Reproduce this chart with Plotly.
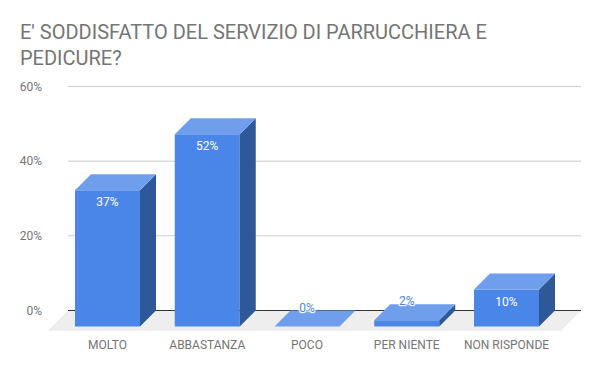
import plotly.graph_objects as go

title_lines = ["E' SODDISFATTO DEL SERVIZIO DI PARRUCCHIERA E", "PEDICURE?"]
categories = ["MOLTO", "ABBASTANZA", "POCO", "PER NIENTE", "NON RISPONDE"]
values = [36.5, 51.5, 0, 1.7, 9.9]
labels = ["37%", "52%", "0%", "2%", "10%"]
y_ticks = [0, 20, 40, 60]
y_tick_labels = ["0%", "20%", "40%", "60%"]

FRONT, TOP, SIDE = "#4a86e8", "#6e9eec", "#2f5899"
GREY = "#757575"

# Pixel geometry of the drawing, turned into axis units.
L, R, T, B = 48, 581, 86, 331
Y0_PX = 310.5
PX_Y = 224 / 60
PX_X = 99.75
X0_PX = 107.5
DX = 16 / PX_X
DY = 16 / PX_Y
BAR_W = 65 / PX_X
x_rng = [(L - X0_PX) / PX_X, (R - X0_PX) / PX_X]
y_rng = [-(B - Y0_PX) / PX_Y, (Y0_PX - T) / PX_Y]
back_left = (68 - X0_PX) / PX_X

idx = list(range(len(categories)))
fig = go.Figure()


def poly(xs, ys, color):
    fig.add_trace(go.Scatter(x=xs, y=ys, mode="lines", fill="toself", fillcolor=color,
                             line=dict(width=0), hoverinfo="skip", showlegend=False))


# Floor and back-wall lines sit under every trace
floor_x = [x_rng[0], back_left, x_rng[1], x_rng[1] - (back_left - x_rng[0])]
floor_y = [y_rng[0], 0, 0, y_rng[0]]
fig.add_shape(type="path", layer="below", xref="x", yref="y", fillcolor="#eeeeee", line=dict(width=0),
              path="M " + " L ".join(f"{a},{b}" for a, b in zip(floor_x, floor_y)) + " Z")
for t in y_ticks:
    fig.add_shape(type="line", layer="below", xref="x", yref="y", x0=back_left, x1=x_rng[1], y0=t, y1=t,
                  line=dict(color="#333333" if t == 0 else "#cccccc", width=1))

# Front faces
fig.add_trace(go.Bar(x=idx, y=values, base=[-DY] * len(values), width=BAR_W,
                     marker=dict(color=FRONT, line=dict(width=0)), showlegend=False))

# Side and top faces
for i, v in zip(idx, values):
    xl, xr = i - BAR_W / 2, i + BAR_W / 2
    if v > 0:
        poly([xr, xr + DX, xr + DX, xr], [-DY, 0, v, v - DY], SIDE)
    poly([xl, xl + DX, xr + DX, xr], [v - DY, v, v, v - DY], TOP)

# Data labels: white inside the front face of tall bars, blue with a white halo above short ones
HALO = ", ".join(f"{a}px {b}px 1px #ffffff" for a in (-1, 0, 1) for b in (-1, 0, 1) if a or b)
for i, v, lab in zip(idx, values, labels):
    tall = v > 5
    ly = v - DY - 13 / PX_Y if tall else v + 2 / PX_Y
    fig.add_trace(go.Scatter(
        x=[i], y=[ly], mode="text", text=[lab], textposition="middle center",
        textfont=dict(family="Roboto", size=12, color="#ffffff" if tall else FRONT,
                      shadow="none" if tall else HALO),
        hoverinfo="skip", showlegend=False))

fig.update_layout(
    width=600, height=371, autosize=False,
    margin=dict(l=L, r=600 - R, t=T, b=371 - B),
    paper_bgcolor="white", plot_bgcolor="white",
    font=dict(family="Roboto", size=12, color=GREY),
    title=dict(text="<br>".join(title_lines), x=20 / 600, xanchor="left", xref="container",
               y=1 - 38.5 / 371, yanchor="middle", yref="container",
               font=dict(family="Roboto", size=20, color=GREY)),
    xaxis=dict(range=x_rng, tickvals=idx, ticktext=categories, showgrid=False, zeroline=False,
               showline=False, ticks="", ticklabelstandoff=5,
               tickfont=dict(family="Roboto", size=12, color=GREY)),
    yaxis=dict(range=y_rng, tickvals=y_ticks, ticktext=y_tick_labels, showgrid=False, zeroline=False,
               showline=False, ticks="", ticklabelstandoff=5,
               tickfont=dict(family="Roboto", size=12, color=GREY)),
    showlegend=False,
)
fig.write_html("out.html", config={"displayModeBar": False},
               post_script="document.body.style.margin='0';")
